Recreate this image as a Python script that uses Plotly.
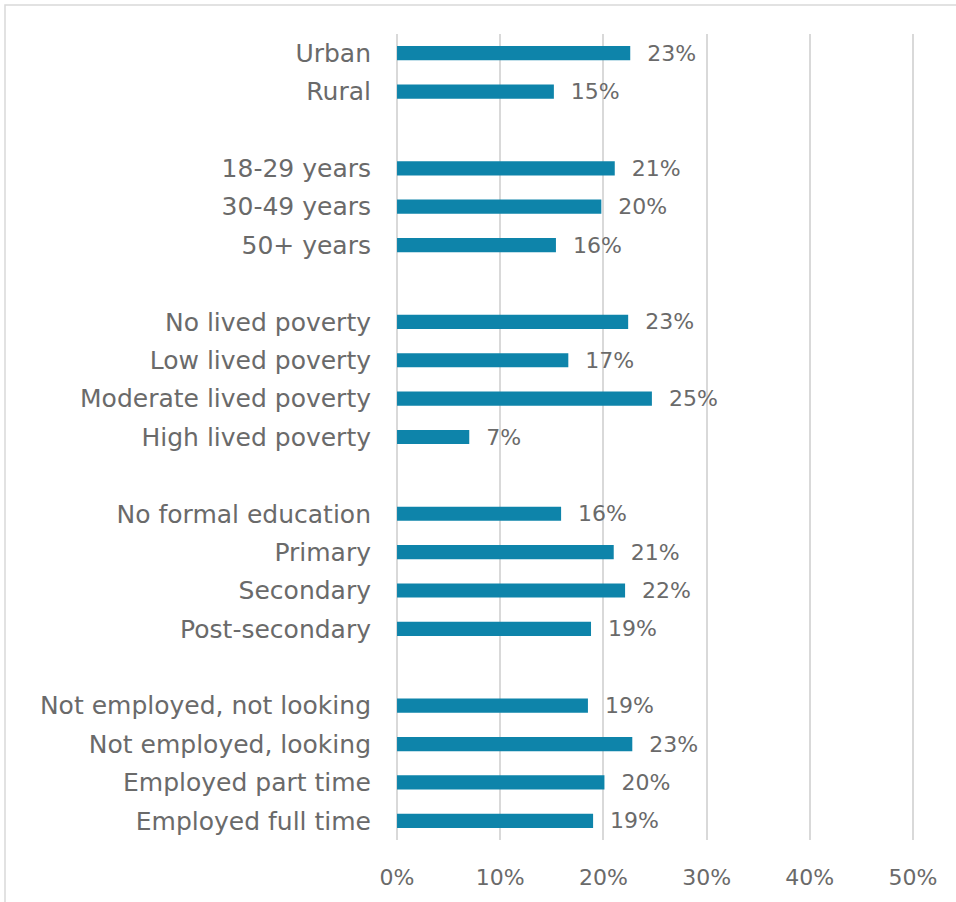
import plotly.graph_objects as go

categories = [
    ["Urban", "Rural"],
    ["18-29 years", "30-49 years", "50+ years"],
    ["No lived poverty", "Low lived poverty", "Moderate lived poverty", "High lived poverty"],
    ["No formal education", "Primary", "Secondary", "Post-secondary"],
    ["Not employed, not looking", "Not employed, looking", "Employed part time", "Employed full time"],
]
values = [
    [0.226, 0.152],
    [0.211, 0.198, 0.154],
    [0.224, 0.166, 0.247, 0.070],
    [0.159, 0.210, 0.221, 0.188],
    [0.185, 0.228, 0.201, 0.190],
]
labels = [
    ["23%", "15%"],
    ["21%", "20%", "16%"],
    ["23%", "17%", "25%", "7%"],
    ["16%", "21%", "22%", "19%"],
    ["19%", "23%", "20%", "19%"],
]
x_ticks = [0, 0.1, 0.2, 0.3, 0.4, 0.5]
x_ticktext = ["0%", "10%", "20%", "30%", "40%", "50%"]

ys, xs, ts, names = [], [], [], []
pos = 0
for g, (cats, vals, labs) in enumerate(zip(categories, values, labels)):
    if g > 0:
        pos += 1
    for c, v, t in zip(cats, vals, labs):
        ys.append(pos)
        xs.append(v)
        ts.append("  " + t)
        names.append(c)
        pos += 1
n_rows = pos

font_family = "DejaVu Sans"
grey = "#6a6a6a"

fig = go.Figure(go.Bar(
    x=xs, y=ys, orientation="h",
    marker=dict(color="#0E84AA", line=dict(width=0)),
    width=0.37,
    text=ts, textposition="outside", cliponaxis=False,
    constraintext="none",
    textfont=dict(family=font_family, size=22, color=grey),
    hoverinfo="skip",
))

fig.update_layout(
    width=956, height=902,
    margin=dict(l=396, r=42, t=34, b=62),
    paper_bgcolor="white", plot_bgcolor="white",
    showlegend=False,
    font=dict(family=font_family, size=22, color=grey),
    xaxis=dict(
        range=[-0.001, 0.501], tickvals=x_ticks, ticktext=x_ticktext,
        showgrid=True, gridcolor="#D9D9D9", gridwidth=1.5,
        zeroline=False, showline=False, ticks="",
        ticklabelstandoff=22,
        tickfont=dict(family=font_family, size=22, color=grey),
    ),
    yaxis=dict(
        range=[n_rows - 0.5, -0.5],
        tickvals=ys, ticktext=names,
        showgrid=False, zeroline=False, showline=False, ticks="",
        ticklabelstandoff=24,
        tickfont=dict(family=font_family, size=25, color=grey),
    ),
    shapes=[dict(
        type="rect", xref="paper", yref="paper",
        x0=(5 - 396) / 518, x1=1.3, y0=-0.3, y1=(840 - 5) / 806,
        line=dict(color="#D9D9D9", width=1.5), fillcolor="rgba(0,0,0,0)",
        layer="below",
    )],
)

fig.write_html("out.html")
